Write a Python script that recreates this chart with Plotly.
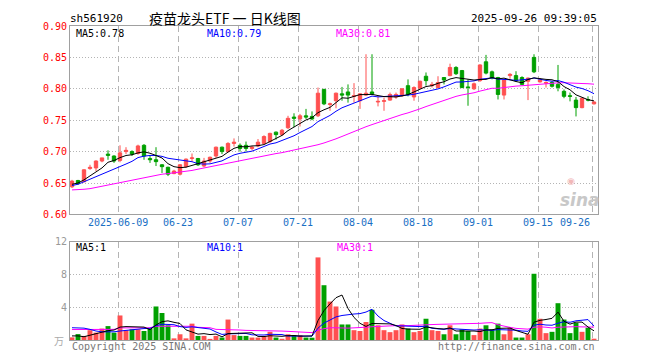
import plotly.graph_objects as go
import pandas as pd

# ---------------- data ----------------
dates = [
    "2025-05-27", "2025-05-28", "2025-05-29", "2025-05-30",
    "2025-06-03", "2025-06-04", "2025-06-05", "2025-06-06",
    "2025-06-09", "2025-06-10", "2025-06-11", "2025-06-12", "2025-06-13",
    "2025-06-16", "2025-06-17", "2025-06-18", "2025-06-19", "2025-06-20",
    "2025-06-23", "2025-06-24", "2025-06-25", "2025-06-26", "2025-06-27",
    "2025-06-30", "2025-07-01", "2025-07-02", "2025-07-03", "2025-07-04",
    "2025-07-07", "2025-07-08", "2025-07-09", "2025-07-10", "2025-07-11",
    "2025-07-14", "2025-07-15", "2025-07-16", "2025-07-17", "2025-07-18",
    "2025-07-21", "2025-07-22", "2025-07-23", "2025-07-24", "2025-07-25",
    "2025-07-28", "2025-07-29", "2025-07-30", "2025-07-31", "2025-08-01",
    "2025-08-04", "2025-08-05", "2025-08-06", "2025-08-07", "2025-08-08",
    "2025-08-11", "2025-08-12", "2025-08-13", "2025-08-14", "2025-08-15",
    "2025-08-18", "2025-08-19", "2025-08-20", "2025-08-21", "2025-08-22",
    "2025-08-25", "2025-08-26", "2025-08-27", "2025-08-28", "2025-08-29",
    "2025-09-01", "2025-09-02", "2025-09-03", "2025-09-04", "2025-09-05",
    "2025-09-08", "2025-09-09", "2025-09-10", "2025-09-11", "2025-09-12",
    "2025-09-15", "2025-09-16", "2025-09-17", "2025-09-18", "2025-09-19",
    "2025-09-22", "2025-09-23", "2025-09-24", "2025-09-25", "2025-09-26",
]

opens = [
    0.644, 0.654, 0.652, 0.673, 0.674, 0.685, 0.696, 0.693, 0.686, 0.700,
    0.700, 0.697, 0.710, 0.689, 0.687, 0.679, 0.675, 0.665, 0.664, 0.676,
    0.689, 0.689, 0.677, 0.685, 0.693, 0.707, 0.700, 0.713, 0.710, 0.710,
    0.705, 0.709, 0.713, 0.716, 0.731, 0.727, 0.738, 0.755, 0.752, 0.757,
    0.756, 0.757, 0.799, 0.775, 0.781, 0.792, 0.795, 0.788, 0.781, 0.790,
    0.795, 0.779, 0.780, 0.782, 0.787, 0.789, 0.805, 0.787, 0.801, 0.820,
    0.805, 0.802, 0.818, 0.821, 0.834, 0.829, 0.803, 0.800, 0.813, 0.843,
    0.827, 0.818, 0.790, 0.821, 0.821, 0.818, 0.812, 0.850, 0.811, 0.809,
    0.810, 0.807, 0.796, 0.789, 0.782, 0.770, 0.783, 0.776,
]
closes = [
    0.653, 0.649, 0.671, 0.675, 0.685, 0.690, 0.694, 0.685, 0.698, 0.702,
    0.696, 0.709, 0.693, 0.687, 0.684, 0.676, 0.664, 0.669, 0.679, 0.688,
    0.690, 0.679, 0.685, 0.691, 0.707, 0.700, 0.713, 0.715, 0.705, 0.705,
    0.707, 0.715, 0.724, 0.729, 0.727, 0.734, 0.753, 0.753, 0.757, 0.755,
    0.752, 0.793, 0.776, 0.776, 0.793, 0.790, 0.790, 0.789, 0.792, 0.793,
    0.792, 0.780, 0.781, 0.791, 0.791, 0.800, 0.791, 0.802, 0.812, 0.813,
    0.807, 0.810, 0.814, 0.834, 0.824, 0.802, 0.802, 0.808, 0.838, 0.825,
    0.817, 0.791, 0.814, 0.823, 0.813, 0.807, 0.817, 0.827, 0.814, 0.810,
    0.804, 0.802, 0.788, 0.788, 0.770, 0.785, 0.782, 0.779,
]
highs = [
    0.655, 0.655, 0.672, 0.679, 0.686, 0.690, 0.702, 0.694, 0.710, 0.707,
    0.702, 0.711, 0.712, 0.694, 0.707, 0.680, 0.676, 0.671, 0.680, 0.689,
    0.697, 0.690, 0.690, 0.692, 0.708, 0.708, 0.715, 0.721, 0.713, 0.716,
    0.709, 0.720, 0.726, 0.730, 0.732, 0.736, 0.757, 0.761, 0.760, 0.768,
    0.764, 0.802, 0.800, 0.778, 0.794, 0.803, 0.807, 0.809, 0.792, 0.855,
    0.855, 0.788, 0.786, 0.794, 0.794, 0.801, 0.815, 0.804, 0.813, 0.826,
    0.811, 0.820, 0.818, 0.840, 0.836, 0.830, 0.815, 0.810, 0.839, 0.854,
    0.829, 0.819, 0.815, 0.825, 0.828, 0.820, 0.818, 0.855, 0.817, 0.812,
    0.812, 0.838, 0.799, 0.794, 0.787, 0.786, 0.788, 0.780,
]
lows = [
    0.642, 0.647, 0.651, 0.671, 0.669, 0.683, 0.687, 0.682, 0.683, 0.696,
    0.693, 0.695, 0.687, 0.682, 0.677, 0.666, 0.661, 0.664, 0.662, 0.674,
    0.684, 0.677, 0.675, 0.682, 0.690, 0.696, 0.699, 0.708, 0.700, 0.700,
    0.702, 0.707, 0.712, 0.714, 0.719, 0.725, 0.736, 0.739, 0.740, 0.752,
    0.750, 0.755, 0.774, 0.765, 0.769, 0.781, 0.778, 0.778, 0.768, 0.789,
    0.790, 0.772, 0.765, 0.781, 0.784, 0.787, 0.788, 0.781, 0.800, 0.805,
    0.802, 0.801, 0.807, 0.820, 0.822, 0.801, 0.773, 0.798, 0.811, 0.823,
    0.815, 0.783, 0.783, 0.816, 0.811, 0.806, 0.782, 0.825, 0.810, 0.802,
    0.802, 0.796, 0.785, 0.780, 0.756, 0.769, 0.780, 0.775,
]
# volume in 万
volumes = [
    0.32, 0.72, 0.5, 1.2, 0.9, 1.4, 1.7, 0.9, 3.0, 1.2,
    1.3, 1.3, 1.1, 1.4, 4.1, 3.3, 1.8, 0.2, 0.7, 0.2,
    2.0, 0.5, 0.5, 0.12, 0.5, 0.3, 2.5, 0.6, 0.5, 0.5,
    0.3, 0.3, 0.5, 1.0, 0.3, 0.15, 0.7, 0.6, 0.6, 0.3,
    0.28, 10.1, 6.7, 4.7, 4.1, 1.9, 1.9, 1.2, 1.1, 2.2,
    3.7, 1.8, 1.2, 0.96, 1.2, 1.9, 1.4, 0.96, 1.1, 2.6,
    1.2, 1.1, 0.7, 1.8, 0.7, 1.3, 1.1, 0.6, 1.4, 1.8,
    1.3, 2.0, 0.7, 1.5, 0.3, 0.3, 0.7, 8.1, 2.6, 0.84,
    1.0, 4.5, 2.5, 0.84, 2.1, 1.0, 1.5, 0.16,
]

# moving-average values at the start of the window (they depend on days before it)
ma5_head = [0.648, 0.650, 0.655, 0.661]
ma10_head = [0.646, 0.648, 0.652, 0.656, 0.660, 0.664, 0.667, 0.671, 0.676]
ma30_head = [0.639, 0.639, 0.640, 0.641, 0.643, 0.644, 0.646, 0.648, 0.650, 0.652,
             0.654, 0.656, 0.658, 0.660, 0.662, 0.664, 0.665, 0.666, 0.667, 0.669,
             0.670, 0.672, 0.674, 0.676, 0.678, 0.680, 0.682, 0.684, 0.686]
vma5_head = [0.5, 0.5, 0.4, 0.6]
vma10_head = [1.5, 1.5, 1.45, 1.3, 1.1, 1.0, 1.0, 1.0, 1.1]
vma30_head = [1.28, 1.28, 1.28, 1.28, 1.28, 1.28, 1.28, 1.3, 1.48, 1.48,
              1.48, 1.48, 1.48, 1.5, 1.68, 1.68, 1.68, 1.68, 1.68, 1.68,
              1.68, 1.55, 1.55, 1.5, 1.3, 1.3, 1.3, 1.25, 1.22]

tick_dates = ["2025-06-09", "2025-06-23", "2025-07-07", "2025-07-21", "2025-08-04",
              "2025-08-18", "2025-09-01", "2025-09-15", "2025-09-26"]
tick_labels = ["2025-06-09", "06-23", "07-07", "07-21", "08-04",
               "08-18", "09-01", "09-15", "09-26"]
price_ticks = [0.60, 0.65, 0.70, 0.75, 0.80, 0.85, 0.90]
vol_ticks = [4, 8, 12]

# ---------------- derived ----------------
idx = list(range(len(dates)))


def moving_avg(vals, n, head):
    s = pd.Series(vals).rolling(n).mean().tolist()
    return list(head) + s[len(head):]


ma5 = moving_avg(closes, 5, ma5_head)
ma10 = moving_avg(closes, 10, ma10_head)
ma30 = moving_avg(closes, 30, ma30_head)
vma5 = moving_avg(volumes, 5, vma5_head)
vma10 = moving_avg(volumes, 10, vma10_head)
vma30 = moving_avg(volumes, 30, vma30_head)

RED = "#ff5050"
GREEN = "#00a000"
MONO = "DejaVu Sans Mono"
vol_colors = [RED if c >= o else GREEN for o, c in zip(opens, closes)]

fig = go.Figure()
fig.add_trace(go.Candlestick(
    x=idx, open=opens, high=highs, low=lows, close=closes,
    increasing=dict(line=dict(color=RED, width=1), fillcolor=RED),
    decreasing=dict(line=dict(color=GREEN, width=1), fillcolor=GREEN),
    whiskerwidth=0, xaxis="x", yaxis="y", hoverinfo="skip",
))
for vals, col in [(ma30, "#ff00ff"), (ma10, "#0000ff"), (ma5, "#000000")]:
    fig.add_trace(go.Scatter(x=idx, y=vals, mode="lines", line=dict(color=col, width=1),
                             xaxis="x", yaxis="y", hoverinfo="skip"))

fig.add_trace(go.Bar(x=idx, y=volumes, marker=dict(color=vol_colors, line=dict(width=0)),
                     xaxis="x2", yaxis="y2", hoverinfo="skip"))
for vals, col in [(vma30, "#ff00ff"), (vma10, "#0000ff"), (vma5, "#000000")]:
    fig.add_trace(go.Scatter(x=idx, y=vals, mode="lines", line=dict(color=col, width=1),
                             xaxis="x2", yaxis="y2", hoverinfo="skip"))

tickpos = [dates.index(d) - 1 / 3 for d in tick_dates]
xr = [-1 / 3, len(dates) - 1 / 3]
GRID = "#b4b4b4"
BORDER = "#a0a0a0"
common_x = dict(range=xr, tickvals=tickpos, showticklabels=False, ticks="",
                showgrid=True, gridcolor=GRID, griddash="6px,4px", gridwidth=1,
                showline=True, mirror=True, linecolor=BORDER, linewidth=1,
                zeroline=False, fixedrange=True)

# the page body adds an 8px offset, so the figure is 652x352 with margins reduced by 8
fig.update_layout(
    width=652, height=352,
    margin=dict(l=62, r=62, t=12, b=20),
    paper_bgcolor="white", plot_bgcolor="white",
    showlegend=False, bargap=0.18, boxgap=0.2,
    xaxis=dict(domain=[0, 1], anchor="y", rangeslider=dict(visible=False), **common_x),
    xaxis2=dict(domain=[0, 1], anchor="y2", matches="x", **common_x),
    yaxis=dict(domain=[0.4, 1], range=[0.60, 0.90], tickvals=price_ticks,
               ticktext=["%.2f" % v for v in price_ticks],
               tickfont=dict(family=MONO, size=10, color="#ff0000"),
               showgrid=True, gridcolor=GRID, griddash="1px,2px",
               showline=True, mirror=True, linecolor=BORDER, linewidth=1,
               ticks="", zeroline=False, fixedrange=True),
    yaxis2=dict(domain=[0, 0.3125], range=[0, 12], tickvals=vol_ticks,
                ticktext=[str(v) for v in vol_ticks],
                tickfont=dict(family=MONO, size=10, color="#999999"),
                showgrid=True, gridcolor=GRID, griddash="1px,2px",
                showline=True, mirror=True, linecolor=BORDER, linewidth=1,
                ticks="", zeroline=False, fixedrange=True),
)


def px(x):
    return (x - 70) / 528


def py(y):
    return (340 - y) / 320


anns = []


def txt(x, y, s, color="#000", size=10, xanchor="left", family=MONO, **kw):
    anns.append(dict(x=px(x), y=py(y), xref="paper", yref="paper", text=s, showarrow=False,
                     xanchor=xanchor, yanchor="middle",
                     font=dict(family=family, size=size, color=color, **kw)))


# header
txt(68, 12, "sh561920", size=11)
txt(147, 12, "疫苗龙头ETF 一 日K线图", size=14, family="Noto Sans CJK SC")
txt(599, 12, "2025-09-26 09:39:05", size=11, xanchor="right")
# MA legends (price)
txt(74, 28, "MA5:%.2f" % ma5[-1])
txt(205, 28, "MA10:%.2f" % ma10[-1], color="#0000ff")
txt(334, 28, "MA30:%.2f" % ma30[-1], color="#ff00ff")
# MA legends (volume)
txt(74, 246, "MA5:%d" % int(vma5[-1]))
txt(205, 246, "MA10:%d" % int(vma10[-1]), color="#0000ff")
txt(335, 246, "MA30:%d" % int(vma30[-1]), color="#ff00ff")
# date labels
for pos, lab in zip(tickpos, tick_labels):
    xpix = 70 + (pos - xr[0]) * 6
    if lab == tick_labels[-1]:
        txt(xpix, 220, lab, color="#1a6fc4", xanchor="right")
    else:
        txt(xpix, 220, lab, color="#1a6fc4", xanchor="center")
# unit
txt(66, 340, "万", color="#aaaaaa", size=10, xanchor="right", family="Noto Sans CJK SC")
# footer
txt(70, 347, "Copyright 2025 SINA.COM", color="#777777")
txt(597, 347, "http://finance.sina.com.cn", color="#777777", xanchor="right")
# watermark
txt(580, 197, "sina", color="#c8c8c8", size=17, xanchor="center",
    family="DejaVu Sans", weight="bold", style="italic")
txt(571, 178, "◉", color="#f2b8b8", size=9, xanchor="center", family="DejaVu Sans")

fig.update_layout(annotations=anns)
fig.write_html("out.html")
